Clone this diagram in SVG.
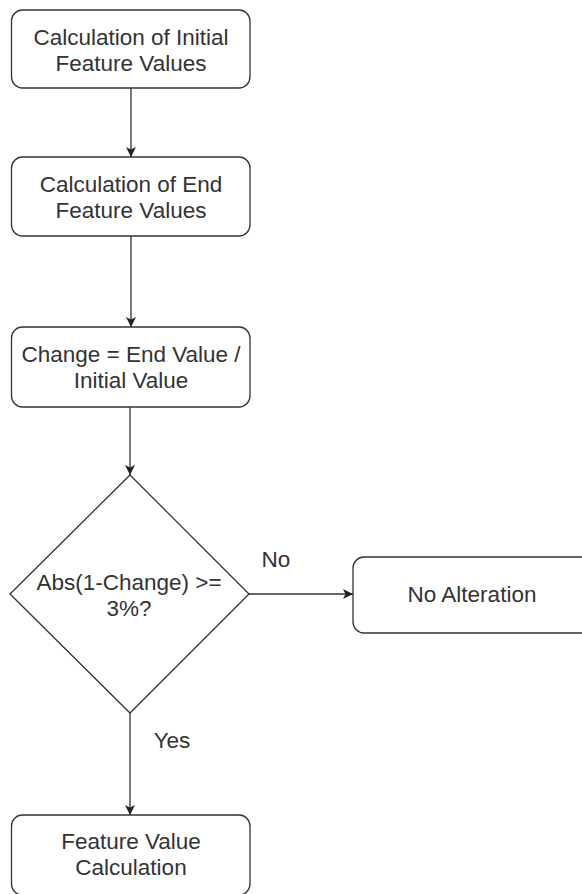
<svg xmlns="http://www.w3.org/2000/svg" width="582" height="894" viewBox="0 0 582 894">
<style>
.box{fill:#fff;stroke:#333;stroke-width:1.3}
.t{font-family:"Liberation Sans",Arial,sans-serif;font-size:22.5px;fill:#333;text-anchor:middle}
.c{stroke:#333;stroke-width:1.3;fill:none}
</style>
<defs>
<marker id="ah" viewBox="0 0 10 10" refX="10" refY="5" markerWidth="10" markerHeight="10" markerUnits="userSpaceOnUse" orient="auto">
<path d="M0,0 L10,5 L0,10 L2.5,5 Z" fill="#222"/>
</marker>
</defs>
<rect width="582" height="894" fill="#fff"/>
<g id="connectors">
<line class="c" x1="131" y1="88" x2="131" y2="157" marker-end="url(#ah)"/>
<line class="c" x1="131" y1="236" x2="131" y2="327" marker-end="url(#ah)"/>
<line class="c" x1="130" y1="407" x2="130" y2="475" marker-end="url(#ah)"/>
<line class="c" x1="249" y1="594" x2="353" y2="594" marker-end="url(#ah)"/>
<line class="c" x1="130" y1="713" x2="130" y2="815" marker-end="url(#ah)"/>
<text class="t" x="276" y="567">No</text>
<text class="t" x="172" y="748">Yes</text>
</g>
<g id="n1">
<rect class="box" x="11.5" y="10" width="238.5" height="78" rx="11"/>
<text class="t" x="131" y="45">Calculation of Initial</text>
<text class="t" x="131" y="71">Feature Values</text>
</g>
<g id="n2">
<rect class="box" x="11.5" y="157" width="238.5" height="79" rx="11"/>
<text class="t" x="131" y="192">Calculation of End</text>
<text class="t" x="131" y="218">Feature Values</text>
</g>
<g id="n3">
<rect class="box" x="11.5" y="327" width="238.5" height="80" rx="11"/>
<text class="t" x="131" y="362">Change = End Value /</text>
<text class="t" x="131" y="388">Initial Value</text>
</g>
<g id="n4">
<polygon class="box" points="130,475 249,594 130,713 10,594"/>
<text class="t" x="129" y="590">Abs(1-Change) &gt;=</text>
<text class="t" x="129" y="616">3%?</text>
</g>
<g id="n5">
<rect class="box" x="353" y="557" width="240" height="76" rx="11"/>
<text class="t" x="472" y="602">No Alteration</text>
</g>
<g id="n6">
<rect class="box" x="11.5" y="815" width="238.5" height="80" rx="11"/>
<text class="t" x="131" y="849">Feature Value</text>
<text class="t" x="131" y="875">Calculation</text>
</g>
</svg>
